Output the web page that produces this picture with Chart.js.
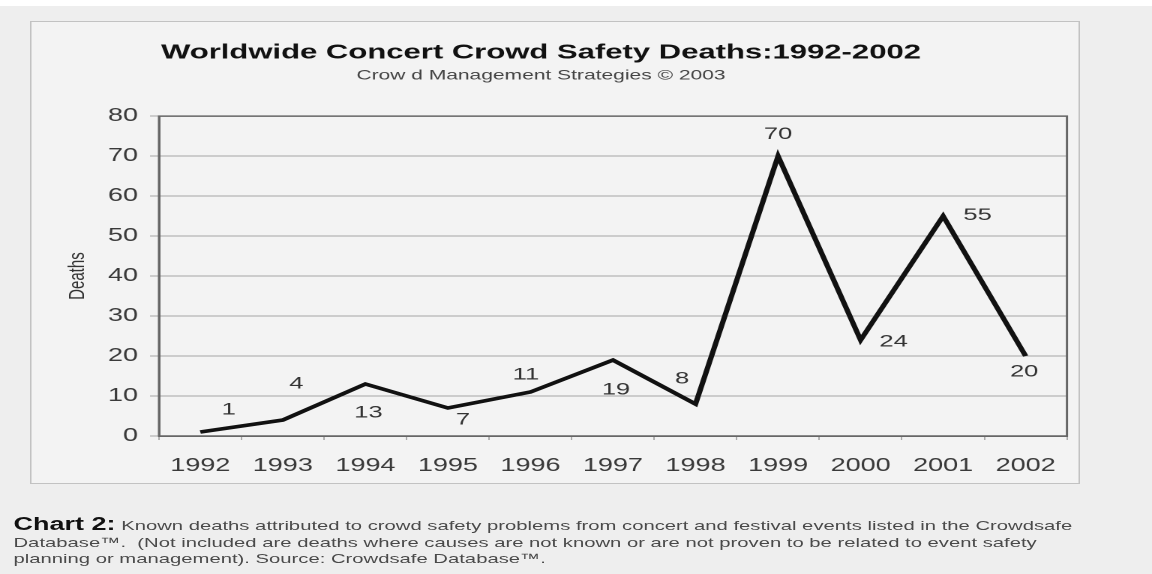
<!DOCTYPE html>
<html>
<head>
<meta charset="utf-8">
<title>Worldwide Concert Crowd Safety Deaths</title>
<script src="https://cdn.jsdelivr.net/npm/chart.js@4.4.1/dist/chart.umd.min.js"></script>
<style>
  html, body { margin: 0; padding: 0; background: #eeeeee; overflow: hidden; }
  .topstrip { position: absolute; left: 0; top: 0; width: 1152px; height: 6px; background: #fff; }
  /* the scanned original is stretched sideways, so draw at 768 wide and scale x by 1.5 */
  .page { position: absolute; left: 0; top: 0; width: 768px; height: 574px;
          transform: scaleX(1.5); transform-origin: 0 0;
          font-family: "Liberation Sans", Arial, sans-serif; }
  .box { position: absolute; left: 20px; top: 21px; width: 700px; height: 463px;
         border: 1px solid #c2c2c2; background: #f3f3f3; box-sizing: border-box; }
  #deathsChart { position: absolute; left: 0; top: 0; }
  .caption { position: absolute; left: 9px; top: 518px; font-size: 13.5px; line-height: 16.5px;
             color: #4a4a4a; white-space: nowrap; }
  .caption b { font-size: 18px; color: #111; line-height: 10px; }
</style>
</head>
<body>
<div class="topstrip"></div>
<div class="page">
  <div class="box"></div>
  <canvas id="deathsChart" width="768" height="574"></canvas>
  <div class="caption">
    <b>Chart 2:</b> Known deaths attributed to crowd safety problems from concert and festival events listed in the Crowdsafe<br>
    Database™.&nbsp; (Not included are deaths where causes are not known or are not proven to be related to event safety<br>
    planning or management). Source: Crowdsafe Database™.
  </div>
</div>

<script>
const years = ['1992', '1993', '1994', '1995', '1996', '1997', '1998', '1999', '2000', '2001', '2002'];
const deaths = [1, 4, 13, 7, 11, 19, 8, 70, 24, 55, 20];
const yTicks = [0, 10, 20, 30, 40, 50, 60, 70, 80];

// where each value label sits relative to its point (dx, dy), as placed in the original
const labelOffsets = [[19, -22], [9, -36], [2, 29], [10, 12], [-3, -17], [2, 30],
                      [-9, -25], [0, -22], [22, 2], [23, -1], [-1, 16]];

const FONT = '"Liberation Sans", Arial, sans-serif';

// draw the value next to every point
const valueLabels = {
    id: 'valueLabels',
    afterDatasetsDraw(chart) {
        const ctx = chart.ctx;
        const meta = chart.getDatasetMeta(0);
        ctx.save();
        ctx.font = '17px ' + FONT;
        ctx.fillStyle = '#333';
        ctx.textAlign = 'center';
        ctx.textBaseline = 'middle';
        meta.data.forEach((pt, i) => {
            const off = labelOffsets[i];
            ctx.fillText(String(deaths[i]), pt.x + off[0], pt.y + off[1]);
        });
        ctx.restore();
    }
};

// box around the plot area
const plotFrame = {
    id: 'plotFrame',
    beforeDatasetsDraw(chart) {
        const a = chart.chartArea;
        const ctx = chart.ctx;
        ctx.save();
        ctx.strokeStyle = '#666';
        ctx.lineWidth = 1.5;
        ctx.strokeRect(a.left, a.top, a.right - a.left, a.bottom - a.top);
        ctx.restore();
    }
};

new Chart(document.getElementById('deathsChart'), {
    type: 'line',
    data: {
        labels: years,
        datasets: [{
            label: 'Deaths',
            data: deaths,
            borderColor: '#111',
            borderWidth: 3.6,
            pointRadius: 0,
            tension: 0,
            fill: false
        }]
    },
    options: {
        responsive: false,
        devicePixelRatio: 2,
        animation: false,
        layout: { padding: { left: 10, right: 56.7, top: 0, bottom: 82.4 } },
        scales: {
            x: {
                offset: true,
                grid: { drawOnChartArea: false, offset: true, tickLength: 4, color: '#aaa' },
                border: { color: '#666', width: 1.5 },
                ticks: { color: '#3a3a3a', padding: 15, font: { family: FONT, size: 18 } }
            },
            y: {
                min: 0,
                max: 80,
                afterBuildTicks(scale) {
                    scale.ticks = yTicks.map(v => ({ value: v }));
                },
                grid: { color: '#a4a4a4', lineWidth: 1, tickLength: 6 },
                border: { color: '#666', width: 1.5 },
                ticks: { color: '#3a3a3a', padding: 8, font: { family: FONT, size: 18 } },
                title: {
                    display: true,
                    text: 'Deaths',
                    color: '#333',
                    font: { family: FONT, size: 15 },
                    padding: { top: 33, bottom: 3 }
                }
            }
        },
        plugins: {
            legend: { display: false },
            tooltip: { enabled: false },
            title: {
                display: true,
                text: 'Worldwide Concert Crowd Safety Deaths:1992-2002',
                color: '#111',
                font: { family: FONT, size: 20.7, weight: 'bold' },
                padding: { top: 40.5, bottom: 0 }
            },
            subtitle: {
                display: true,
                text: 'Crow d Management Strategies © 2003',
                color: '#444',
                font: { family: FONT, size: 14 },
                padding: { top: 2, bottom: 32 }
            }
        }
    },
    plugins: [valueLabels, plotFrame]
});
</script>
</body>
</html>
